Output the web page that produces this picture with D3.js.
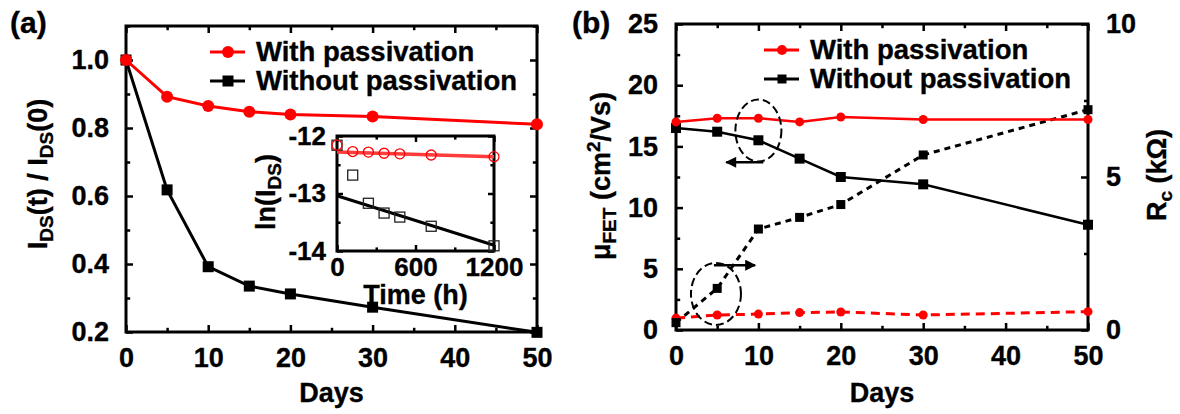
<!DOCTYPE html>
<html lang="en">
<head>
  <meta charset="UTF-8">
  <title>Passivation stability</title>
  <style>
    body { margin: 0; background: #fff; }
    svg { display: block; }
    text { font-family: "Liberation Sans", Arial, sans-serif; font-weight: bold; fill: #000; stroke: #000; stroke-width: 0.35; }
    .axis path { display: none; }
    .axis line { stroke: #000; stroke-width: 2.5; }
  </style>
</head>
<body>
  <script src="https://cdn.jsdelivr.net/npm/d3@7"></script>
  <script>
    // ---- data ----
    var days = [0, 5, 10, 15, 20, 30, 50];
    var normWith = [1.0, 0.892, 0.865, 0.848, 0.840, 0.834, 0.811];
    var normWithout = [1.0, 0.618, 0.392, 0.335, 0.312, 0.273, 0.199];

    var hours = [0, 120, 240, 360, 480, 720, 1200];
    var lnWith = [-12.16, -12.27, -12.28, -12.30, -12.31, -12.33, -12.36];
    var lnWithout = [-12.16, -12.68, -13.17, -13.34, -13.41, -13.57, -13.91];
    var fitHours = [0, 1200];
    var fitWith = [-12.28, -12.36];
    var fitWithout = [-13.04, -13.90];

    var mobWith = [17.0, 17.3, 17.3, 17.0, 17.4, 17.2, 17.2];
    var mobWithout = [16.5, 16.2, 15.5, 14.0, 12.5, 11.9, 8.6];
    var rcWith = [0.39, 0.49, 0.52, 0.57, 0.59, 0.49, 0.6];
    var rcWithout = [0.24, 1.36, 3.3, 3.68, 4.1, 5.72, 7.2];

    var dayTicks = [0, 10, 20, 30, 40, 50];
    var normTicks = [0.2, 0.4, 0.6, 0.8, 1.0];
    var mobTicks = [0, 5, 10, 15, 20, 25];
    var rcTicks = [0, 5, 10];
    var hourTicks = [0, 600, 1200];
    var lnTicks = [-12, -13, -14];
    var legendLabels = ["With passivation", "Without passivation"];

    var RED = "#ff0000", BLACK = "#000";
    var W = 1180, H = 414;
    var FS = 27;

    var svg = d3.select("body").append("svg").attr("width", W).attr("height", H);
    svg.append("rect").attr("width", W).attr("height", H).attr("fill", "#fff");

    // inward ticks (major + minor) on all four sides, then the frame
    function frame(g, x, y, o) {
      var x0 = x.range()[0], x1 = x.range()[1], y0 = y.range()[0], y1 = y.range()[1];
      function ax(fn, scale, vals, size, tx, ty, fmt, pad) {
        var a = fn(scale).tickValues(vals).tickSize(size).tickPadding(pad || 0).tickFormat(fmt || "");
        var gg = g.append("g").attr("class", "axis").attr("transform", "translate(" + tx + "," + ty + ")").call(a);
        gg.selectAll("text").style("font-size", (o.fs || FS) + "px").attr("font-family", null);
      }
      ax(d3.axisBottom, x, o.xt, -o.tl, 0, y0, o.xfmt, o.xpad);
      ax(d3.axisBottom, x, o.xm, -o.tl * 0.6, 0, y0);
      ax(d3.axisTop, x, o.xt, -o.tl, 0, y1);
      ax(d3.axisTop, x, o.xm, -o.tl * 0.6, 0, y1);
      ax(d3.axisLeft, y, o.yt, -o.tl, x0, 0, o.yfmt, o.ypad);
      ax(d3.axisLeft, y, o.ym, -o.tl * 0.6, x0, 0);
      if (!o.noRight) {
        ax(d3.axisRight, y, o.yt, -o.tl, x1, 0);
        ax(d3.axisRight, y, o.ym, -o.tl * 0.6, x1, 0);
      }
      g.append("rect").attr("x", x0).attr("y", y1).attr("width", x1 - x0).attr("height", y0 - y1)
        .attr("fill", "none").attr("stroke", "#000").attr("stroke-width", 3);
    }

    var plain = function (d) { return String(d); };

    function series(g, x, y, xs, ys, color, shape, opt) {
      var pts = xs.map(function (d, i) { return [x(d), y(ys[i])]; });
      g.append("path").attr("d", d3.line()(pts)).attr("fill", "none")
        .attr("stroke", color).attr("stroke-width", opt.lw)
        .attr("stroke-dasharray", opt.dash || null);
      marker(g, pts, color, shape, opt);
    }

    function marker(g, pts, color, shape, opt) {
      var m = g.append("g");
      if (shape === "circle") {
        m.selectAll("circle").data(pts).enter().append("circle")
          .attr("cx", function (d) { return d[0]; }).attr("cy", function (d) { return d[1]; })
          .attr("r", opt.r).attr("fill", opt.open ? "none" : color)
          .attr("stroke", color).attr("stroke-width", opt.open ? 1.3 : 0);
      } else {
        m.selectAll("rect").data(pts).enter().append("rect")
          .attr("x", function (d) { return d[0] - opt.s / 2; }).attr("y", function (d) { return d[1] - opt.s / 2; })
          .attr("width", opt.s).attr("height", opt.s).attr("fill", opt.open ? "none" : color)
          .attr("stroke", opt.open ? "#222" : "none").attr("stroke-width", 1.3);
      }
    }

    function legend(g, lx, ly, opt) {
      var cols = [RED, BLACK], shapes = ["circle", "square"];
      legendLabels.forEach(function (t, i) {
        var yy = ly + i * 29;
        g.append("line").attr("x1", lx).attr("x2", lx + 35).attr("y1", yy).attr("y2", yy)
          .attr("stroke", cols[i]).attr("stroke-width", opt.lw);
        marker(g, [[lx + 18, yy]], cols[i], shapes[i], opt);
        g.append("text").attr("x", lx + 46).attr("y", yy + 9).style("font-size", "27.5px").text(t);
      });
    }

    function subLabel(g, tx, ty, parts) {
      var t = g.append("text").attr("transform", "translate(" + tx + "," + ty + ") rotate(-90)")
        .attr("text-anchor", "middle").style("font-size", FS + "px");
      parts.forEach(function (p) {
        var s = t.append("tspan").text(p[0]);
        if (p[1]) s.attr("dy", p[1]);
        if (p[2]) s.style("font-size", p[2] + "px");
      });
    }

    // ================= panel (a) =================
    var ga = svg.append("g");
    var xa = d3.scaleLinear().domain([0, 50]).range([126, 537]);
    var ya = d3.scaleLinear().domain([0.2, 1.1]).range([332, 26]);
    frame(ga, xa, ya, {
      xt: dayTicks, xm: [5, 15, 25, 35, 45], yt: normTicks, ym: [0.3, 0.5, 0.7, 0.9, 1.1],
      tl: 7, xpad: 16, ypad: 17, xfmt: plain, yfmt: d3.format(".1f")
    });
    series(ga, xa, ya, days, normWithout, BLACK, "square", { lw: 3, s: 11 });
    series(ga, xa, ya, days, normWith, RED, "circle", { lw: 3, r: 6 });
    legend(ga, 210, 52, { lw: 3, r: 6, s: 11 });

    ga.append("text").attr("x", 10).attr("y", 33).style("font-size", "30px").text("(a)");
    ga.append("text").attr("x", xa(25)).attr("y", 402).attr("text-anchor", "middle").style("font-size", FS + "px").text("Days");
    subLabel(ga, 47, 174, [["I"], ["DS", 6, 19], ["(t) / I", -6], ["DS", 6, 19], ["(0)", -6]]);

    // inset
    var gi = svg.append("g");
    var xi = d3.scaleLinear().domain([0, 1200]).range([337, 494]);
    var yi = d3.scaleLinear().domain([-14, -12]).range([251, 136]);
    gi.append("rect").attr("x", 337).attr("y", 136).attr("width", 157).attr("height", 115).attr("fill", "#fff");
    frame(gi, xi, yi, {
      xt: hourTicks, xm: [300, 900], yt: lnTicks, ym: [-12.5, -13.5],
      tl: 6, xpad: 7, ypad: 11, fs: 26, xfmt: plain, yfmt: plain
    });
    gi.append("path").attr("d", d3.line()(fitHours.map(function (d, i) { return [xi(d), yi(fitWithout[i])]; })))
      .attr("stroke", BLACK).attr("stroke-width", 3).attr("fill", "none");
    gi.append("path").attr("d", d3.line()(fitHours.map(function (d, i) { return [xi(d), yi(fitWith[i])]; })))
      .attr("stroke", "#ff3b3b").attr("stroke-width", 3.5).attr("fill", "none");
    marker(gi, hours.map(function (d, i) { return [xi(d), yi(lnWithout[i])]; }), BLACK, "square", { s: 10, open: true });
    marker(gi, hours.map(function (d, i) { return [xi(d), yi(lnWith[i])]; }), RED, "circle", { r: 5, open: true });
    gi.append("text").attr("x", xi(600)).attr("y", 304).attr("text-anchor", "middle").style("font-size", FS + "px").text("Time (h)");
    subLabel(gi, 275, 192, [["ln(I"], ["DS", 6, 19], [")", -6]]);

    // ================= panel (b) =================
    var gb = svg.append("g");
    var xb = d3.scaleLinear().domain([0, 50]).range([676, 1088]);
    var yb = d3.scaleLinear().domain([0, 25]).range([330, 24]);
    var yr = d3.scaleLinear().domain([0, 10]).range([330, 24]);
    frame(gb, xb, yb, {
      xt: dayTicks, xm: [5, 15, 25, 35, 45], yt: mobTicks, ym: [2.5, 7.5, 12.5, 17.5, 22.5],
      tl: 7, xpad: 16, ypad: 18, noRight: true, xfmt: plain, yfmt: plain
    });
    var gr = gb.append("g").attr("class", "axis").attr("transform", "translate(1088,0)")
      .call(d3.axisRight(yr).tickValues(rcTicks).tickSize(-7).tickPadding(18).tickFormat(plain));
    gr.selectAll("text").style("font-size", FS + "px").attr("font-family", null);
    gb.append("g").attr("class", "axis").attr("transform", "translate(1088,0)")
      .call(d3.axisRight(yr).tickValues([2.5, 7.5]).tickSize(-4).tickFormat(""));

    series(gb, xb, yr, days, rcWith, RED, "circle", { lw: 3, r: 4.5, dash: "9,6" });
    series(gb, xb, yr, days, rcWithout, BLACK, "square", { lw: 3, s: 9, dash: "6,5" });
    series(gb, xb, yb, days, mobWithout, BLACK, "square", { lw: 2.5, s: 10 });
    series(gb, xb, yb, days, mobWith, RED, "circle", { lw: 2.5, r: 4.5 });
    legend(gb, 764, 50, { lw: 3, r: 5, s: 9 });

    // dashed ellipses with arrows pointing to their axes
    var defs = svg.append("defs");
    defs.append("marker").attr("id", "ah").attr("viewBox", "0 0 10 10").attr("refX", 9).attr("refY", 5)
      .attr("markerWidth", 5).attr("markerHeight", 4.4).attr("orient", "auto")
      .append("path").attr("d", "M0,0L10,5L0,10Z").attr("fill", "#000");
    gb.append("ellipse").attr("cx", xb(10)).attr("cy", yb(16.3)).attr("rx", 23).attr("ry", 31)
      .attr("fill", "none").attr("stroke", "#000").attr("stroke-width", 2).attr("stroke-dasharray", "8,4");
    gb.append("line").attr("x1", xb(10.6)).attr("x2", xb(6.1)).attr("y1", yb(13.7)).attr("y2", yb(13.7))
      .attr("stroke", "#000").attr("stroke-width", 2.5).attr("marker-end", "url(#ah)");
    gb.append("ellipse").attr("cx", xb(4.85)).attr("cy", yr(1.18)).attr("rx", 25).attr("ry", 31)
      .attr("fill", "none").attr("stroke", "#000").attr("stroke-width", 2).attr("stroke-dasharray", "8,4");
    gb.append("line").attr("x1", xb(4.6)).attr("x2", xb(9.6)).attr("y1", yr(2.12)).attr("y2", yr(2.12))
      .attr("stroke", "#000").attr("stroke-width", 2.5).attr("marker-end", "url(#ah)");

    gb.append("text").attr("x", 572).attr("y", 33).style("font-size", "30px").text("(b)");
    gb.append("text").attr("x", xb(25)).attr("y", 402).attr("text-anchor", "middle").style("font-size", FS + "px").text("Days");
    subLabel(gb, 610, 176, [["\u03bc"], ["FET", 6, 19], [" (cm", -6], ["2", -10, 19], ["/Vs)", 10]]);
    subLabel(gb, 1166, 175, [["R"], ["c", 6, 19], [" (k\u03a9)", -6]]);
  </script>
</body>
</html>
